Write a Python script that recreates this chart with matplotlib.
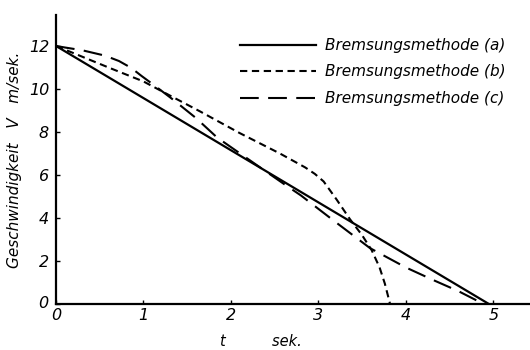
import matplotlib
matplotlib.use("Agg")
import matplotlib.pyplot as plt

# Zeit t [sek] und Geschwindigkeit V [m/sek] fuer die drei Bremsungsmethoden
t_a = [0.0, 4.95]
v_a = [12.0, 0.0]

t_b = [0.0, 0.15, 0.33, 0.6, 1.0, 1.3, 1.65, 2.1, 2.56, 2.85, 2.96, 3.06, 3.21,
       3.36, 3.5, 3.61, 3.7, 3.76, 3.82]
v_b = [12.0, 11.75, 11.45, 11.0, 10.35, 9.7, 8.95, 7.95, 7.0, 6.35, 6.05, 5.7, 4.85,
       3.95, 3.2, 2.5, 1.7, 0.95, 0.0]

t_c = [0.0, 0.1, 0.3, 0.56, 0.72, 0.86, 0.98, 1.13, 1.34, 1.6, 1.84, 2.14, 2.6, 2.8,
       3.2, 3.59, 4.0, 4.31, 4.6, 4.89]
v_c = [12.0, 11.93, 11.8, 11.55, 11.3, 10.98, 10.6, 10.15, 9.5, 8.65, 7.75, 6.9, 5.6, 5.05,
       3.8, 2.6, 1.7, 1.12, 0.6, 0.0]

x_ticks = [0, 1, 2, 3, 4, 5]
y_ticks = [0, 2, 4, 6, 8, 10, 12]

labels = ["Bremsungsmethode (a)", "Bremsungsmethode (b)", "Bremsungsmethode (c)"]

plt.rcParams["font.family"] = "DejaVu Sans"
plt.rcParams["font.style"] = "italic"

fig = plt.figure(figsize=(5.3, 3.5), dpi=100)
ax = fig.add_axes([56 / 530, 46 / 350, 474 / 530, 289 / 350])

ax.plot(t_a, v_a, color="black", lw=1.6, label=labels[0])
ax.plot(t_b, v_b, color="black", lw=1.5, linestyle=(0, (3.5, 2.2)), label=labels[1])
ax.plot(t_c, v_c, color="black", lw=1.5, linestyle=(0, (9, 4.5)), label=labels[2])

ax.set_xlim(0, 5.42)
ax.set_ylim(0, 13.44)
ax.set_xticks(x_ticks)
ax.set_yticks(y_ticks)
ax.set_xticklabels([str(v) for v in x_ticks])
ax.set_yticklabels(["" if v == 0 else str(v) for v in y_ticks])

for side in ["top", "right"]:
    ax.spines[side].set_visible(False)
for side in ["left", "bottom"]:
    ax.spines[side].set_linewidth(1.6)

ax.tick_params(direction="in", length=3, width=1, labelsize=11.5, pad=3)
ax.tick_params(axis="y", pad=5)

# Null der Ordinate etwas links unterhalb des Ursprungs
ax.text(-0.09, 0.0, "0", transform=ax.transData, fontsize=11.5,
        ha="right", va="center")

ax.set_ylabel("Geschwindigkeit   V   m/sek.", fontsize=11)
ax.yaxis.set_label_coords(-0.072, 0.5)
ax.set_xlabel("t          sek.", fontsize=10.5)
ax.xaxis.set_label_coords(0.432, -0.105)

ax.legend(loc="upper left", bbox_to_anchor=(240 / 530, 1 - 38 / 350),
          bbox_transform=fig.transFigure, frameon=False, fontsize=11,
          handlelength=5.0, handletextpad=0.55, labelspacing=0.75, borderpad=0,
          borderaxespad=0)

fig.savefig("out.png", dpi=100)
